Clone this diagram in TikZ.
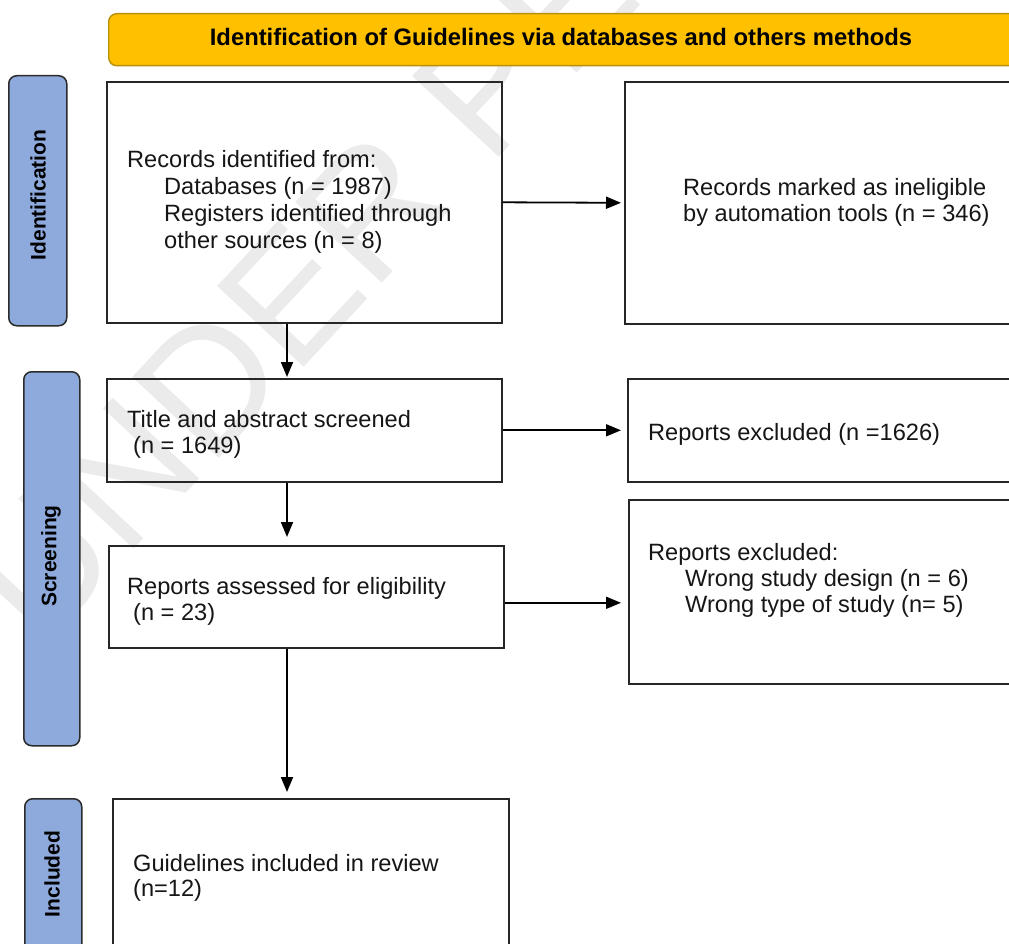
\documentclass[tikz,border=0pt]{standalone}
\usepackage{fontspec}
\setmainfont{Liberation Sans}
\usetikzlibrary{arrows.meta,calc}
\definecolor{bannerfill}{HTML}{FFC000}
\definecolor{bannerline}{HTML}{B8900A}
\definecolor{sidefill}{HTML}{8EA9DB}
\definecolor{sideline}{HTML}{2B2B2B}
\definecolor{boxline}{HTML}{262626}
\definecolor{wmcol}{HTML}{EBEBEB}
\definecolor{txtcol}{HTML}{161616}
\begin{document}
\begin{tikzpicture}[x=1pt,y=-1pt,
  stagebox/.style={draw=boxline, line width=1.6pt, anchor=north west, inner sep=0pt},
  sidebox/.style={draw=sideline, fill=sidefill, line width=1.5pt, rounded corners=8pt, anchor=north west, inner sep=0pt},
  bannerbox/.style={draw=bannerline, fill=bannerfill, line width=1.4pt, rounded corners=8pt, anchor=north west, inner sep=0pt},
  bodytxt/.style={anchor=base west, inner sep=0pt, text=txtcol, font=\fontsize{23.6}{26}\selectfont},
  sidetxt/.style={inner sep=0pt, rotate=90, font=\fontsize{21}{24}\selectfont\bfseries},
  bannertxt/.style={inner sep=0pt, anchor=base, font=\fontsize{23.8}{26}\selectfont\bfseries},
  wmark/.style={inner sep=0pt, anchor=base west, rotate=47, text=wmcol, font=\fontsize{172}{172}\selectfont},
  arr/.style={draw=black, line width=1.8pt, -{Triangle[length=15pt,width=12pt]}}
]
\useasboundingbox (0,0) rectangle (1009,944);
\clip (0,0) rectangle (1009,944);
\fill[white] (0,0) rectangle (1009,944);

% watermark
\node[wmark] (wm) at (40,650) {UNDER PEER REVIEW};

% banner
\node[bannerbox, minimum width=910pt, minimum height=52pt] (ban) at (108,13) {};
\node[bannertxt] (bant) at (561,46) {Identification of Guidelines via databases and others methods};

% side labels
\node[sidebox, minimum width=58pt, minimum height=250pt] (s1) at (8,75) {};
\node[sidetxt] (s1t) at (38,195) {Identification};
\node[sidebox, minimum width=56pt, minimum height=374pt] (s2) at (23,371) {};
\node[sidetxt] (s2t) at (51,556) {Screening};
\node[sidebox, minimum width=57pt, minimum height=170pt] (s3) at (24,798) {};
\node[sidetxt] (s3t) at (52,874) {Included};

% boxes
\node[stagebox, minimum width=395pt, minimum height=241pt] (b1) at (106,81) {};
\node[stagebox, minimum width=430pt, minimum height=242pt] (b2) at (624,81) {};
\node[stagebox, minimum width=395pt, minimum height=103pt] (b3) at (106,378) {};
\node[stagebox, minimum width=430pt, minimum height=103pt] (b4) at (627,378) {};
\node[stagebox, minimum width=395pt, minimum height=102pt] (b5) at (108,545) {};
\node[stagebox, minimum width=430pt, minimum height=184pt] (b6) at (628,499) {};
\node[stagebox, minimum width=396pt, minimum height=200pt] (b7) at (112,798) {};

% texts
\node[bodytxt] (t1a) at (127,168) {Records identified from:};
\node[bodytxt] (t1b) at (164,195) {Databases (n = 1987)};
\node[bodytxt] (t1c) at (164,221.5) {Registers identified through};
\node[bodytxt] (t1d) at (164,248) {other sources (n = 8)};

\node[bodytxt] (t2a) at (683,196) {Records marked as ineligible};
\node[bodytxt] (t2b) at (683,222) {by automation tools (n = 346)};

\node[bodytxt] (t3a) at (127,427) {Title and abstract screened};
\node[bodytxt] (t3b) at (133,453) {(n = 1649)};

\node[bodytxt] (t4a) at (648,440) {Reports excluded (n =1626)};

\node[bodytxt] (t5a) at (127,594) {Reports assessed for eligibility};
\node[bodytxt] (t5b) at (133,620) {(n = 23)};

\node[bodytxt] (t6a) at (648,560) {Reports excluded:};
\node[bodytxt] (t6b) at (685,586) {Wrong study design (n = 6)};
\node[bodytxt] (t6c) at (685,612) {Wrong type of study (n= 5)};

\node[bodytxt] (t7a) at (133,871) {Guidelines included in review};
\node[bodytxt] (t7b) at (133,896) {(n=12)};

% connectors
\coordinate (colx) at (287,0);
\draw[arr, shorten >=3pt] (b1.east) -- (b2.west);
\draw[arr, shorten >=6pt] (b3.east) -- (b4.west);
\draw[arr, shorten >=7pt] ([yshift=-6pt]b5.east) -- ([yshift=-6pt]b5.east -| b6.west);
\draw[arr, shorten >=1pt] (b1.south -| colx) -- (b3.north -| colx);
\draw[arr, shorten >=8pt] (b3.south -| colx) -- (b5.north -| colx);
\draw[arr, shorten >=6pt] (b5.south -| colx) -- (b7.north -| colx);
\end{tikzpicture}
\end{document}
